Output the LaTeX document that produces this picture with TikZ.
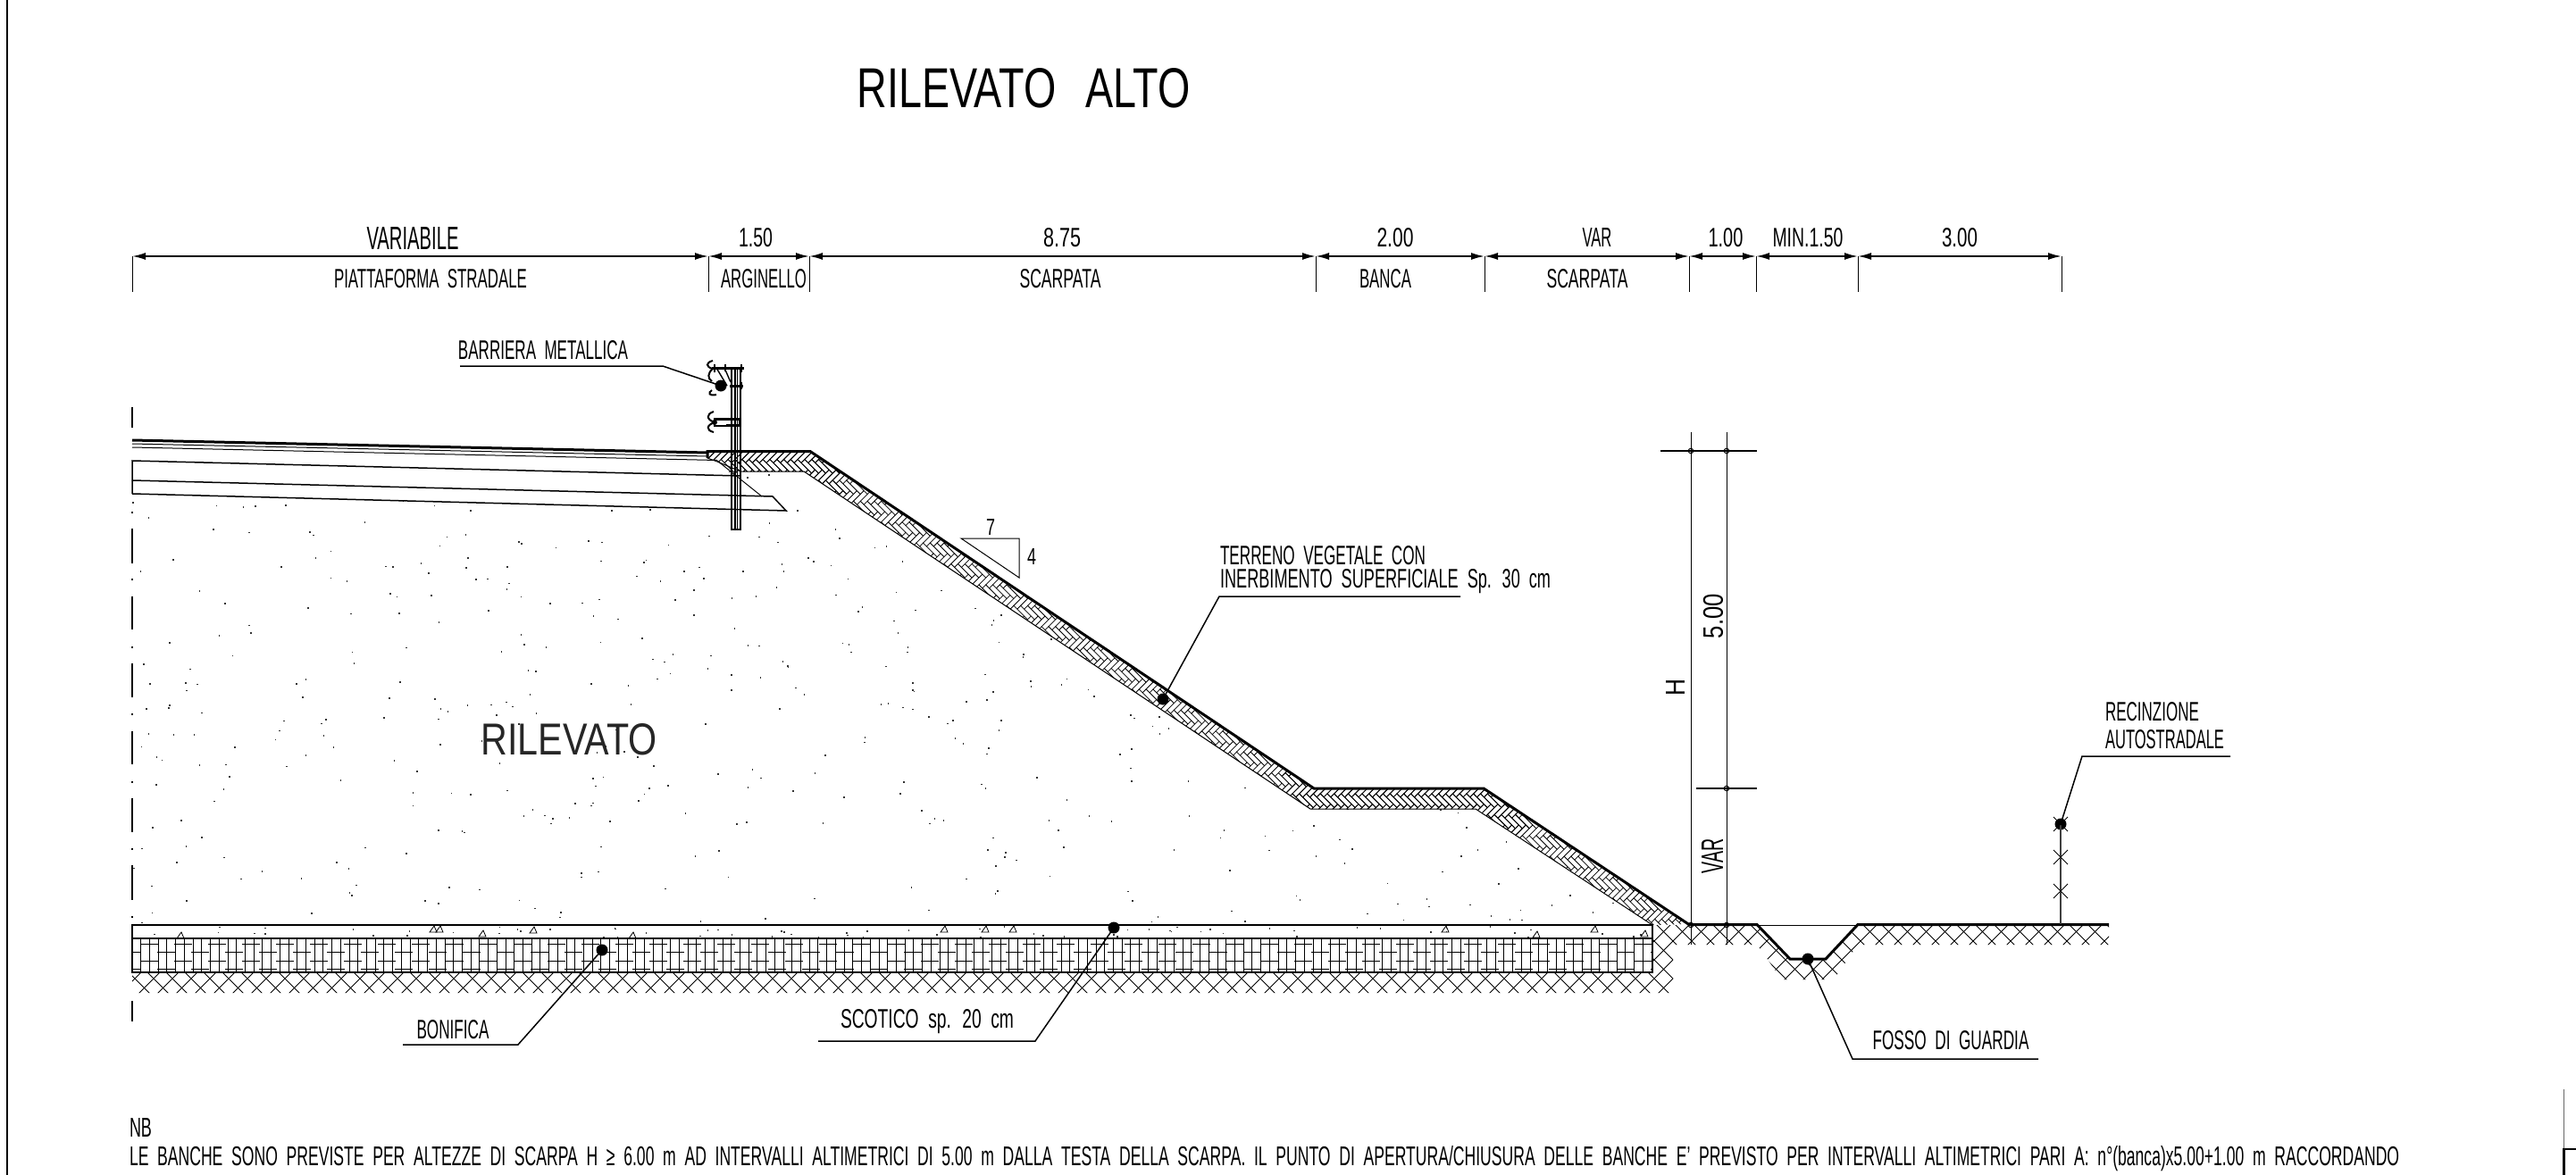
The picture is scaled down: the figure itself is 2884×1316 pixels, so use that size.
\documentclass[tikz,border=0pt]{standalone}
\usepackage{fontspec}
\setmainfont{Liberation Sans}
\usetikzlibrary{arrows.meta}
\newcommand\fit[3]{\resizebox{#1pt}{#2pt}{\spaceskip=.55em\relax #3}}
\tikzset{
  x=1pt,y=-1pt,
  lbl/.style={inner sep=0pt,outer sep=0pt,text=black},
  thinl/.style={line width=1pt,black},
  medl/.style={line width=1.5pt,black},
  heavy/.style={line width=3pt,black,line join=miter},
  hatchl/.style={line width=.8pt,black},
  dimspan/.style={line width=1.8pt,black,{Latex[length=15pt,width=8pt]}-{Latex[length=15pt,width=8pt]}},
  tickl/.style={line width=1pt,black},
  leaderdot/.style={circle,fill=black,inner sep=0pt,minimum size=13pt},
  smallo/.style={circle,draw=black,line width=1pt,inner sep=0pt,minimum size=5.5pt},
}
\newcommand\hbrow[3]{%
  \pgfmathsetmacro\hbY{495+23.4*(#1)}%
  \pgfmathtruncatemacro\hbA{(#2)/7.8}%
  \pgfmathtruncatemacro\hbB{(#3)/7.8}%
  \foreach \hbi in {\hbA,...,\hbB}{%
    \pgfmathsetmacro\hbX{7.8*\hbi}%
    \draw[hatchl] (\hbX,\hbY) -- (\hbX+3.9,\hbY-3.9) -- (\hbX+19.5,\hbY+11.7)
      (\hbX+3.9,\hbY+19.5) -- (\hbX+15.6,\hbY+7.8);
  }}
\begin{document}
\begin{tikzpicture}
\useasboundingbox (0,0) rectangle (2884,1316);
\fill[white] (0,0) rectangle (2884,1316);
% frame
\draw[line width=2.5pt] (8,0) -- (8,1316);
\draw[line width=1.5pt,black!60] (2870.5,1220) -- (2870.5,1286);
\draw[line width=3.5pt] (2870.5,1286) -- (2870.5,1316);
\draw[line width=2.5pt] (2870,1287) -- (2884,1287);
% title
\node[lbl] (title) at (1146,99) {\fit{373}{44}{RILEVATO\hspace{.15em} ALTO}};
% dimension chain
\foreach \n/\x in {d0/148,d1/793,d2/906,d3/1473,d4/1662,d5/1891,d6/1966,d7/2080,d8/2308}{
  \coordinate (\n) at (\x,287);
  \coordinate (\n b) at (\x,327);
  \draw[tickl] (\n) -- (\n b);
}
\foreach \a/\b in {d0/d1,d1/d2,d2/d3,d3/d4,d4/d5,d5/d6,d6/d7,d7/d8}{
  \draw[dimspan] (\a) -- (\b);
}
\node[lbl] (t1) at (462,267) {\fit{103}{25}{VARIABILE}};
\node[lbl] (t2) at (846,266) {\fit{38}{21}{1.50}};
\node[lbl] (t3) at (1189,266) {\fit{42}{21}{8.75}};
\node[lbl] (t4) at (1562,266) {\fit{41}{21}{2.00}};
\node[lbl] (t5) at (1788,266) {\fit{33}{21}{VAR}};
\node[lbl] (t6) at (1932,266) {\fit{39}{21}{1.00}};
\node[lbl] (t7) at (2024,266) {\fit{79}{21}{MIN.1.50}};
\node[lbl] (t8) at (2194,266) {\fit{40}{21}{3.00}};
\node[lbl] (u1) at (482,312) {\fit{216}{21}{PIATTAFORMA STRADALE}};
\node[lbl] (u2) at (855,312) {\fit{96}{21}{ARGINELLO}};
\node[lbl] (u3) at (1187,312) {\fit{91}{21}{SCARPATA}};
\node[lbl] (u4) at (1551,312) {\fit{58}{21}{BANCA}};
\node[lbl] (u5) at (1777,312) {\fit{91}{21}{SCARPATA}};
% axis
\foreach \a/\b in {456/479,592/631,668/705,743/781,819/856,894/932,969/1008,1121/1144}{
  \draw[line width=1.3pt] (148,\a) -- (148,\b);
}
\foreach \a in {573,648,724,799,875,950,1026}{ \fill (147,\a) rectangle ++(2,2); }
% speckle fill of the embankment
\begin{scope}
\clip (148,553) -- (880,572) -- (853,556) -- (829,528) -- (900,528) -- (1467,906) -- (1652,906) -- (1850,1036) -- (148,1036) -- cycle;
\pgfmathsetseed{11}
\foreach \i in {1,...,620}{
  \pgfmathsetmacro\rx{148+rnd*1700}
  \pgfmathsetmacro\ry{530+rnd*505}
  \fill[black!80] (\rx,\ry) rectangle ++(1.6,1.6);
}
\end{scope}
% scotico specks
\begin{scope}
\clip (148,1036) rectangle (1850,1051);
\pgfmathsetseed{5}
\foreach \i in {1,...,70}{
  \pgfmathsetmacro\rx{148+rnd*1700}
  \pgfmathsetmacro\ry{1037+rnd*13}
  \fill[black!80] (\rx,\ry) rectangle ++(1.6,1.6);
}
\end{scope}
\foreach \x/\y in {202/1048,485/1041,492/1041,540/1046,597/1042,708/1048,1057/1041,1103/1041,1134/1041,1618/1041,1720/1047,1785/1041,1841/1046}{
  \draw[line width=.8pt] (\x-4,\y+3) -- (\x+4,\y+3) -- (\x+1,\y-4) -- cycle;
}
% road layers
\draw[heavy] (148,493) -- (792,507);
\draw[thinl] (148,497) -- (792,511);
\draw[thinl] (148,501) -- (803,515.5);
\draw[medl] (148,553) -- (148,516) -- (829,533);
\draw[medl] (148,538) -- (865,556) -- (880,572) -- (148,553);
\draw[thinl] (803,516) -- (853,556);
% herringbone topsoil
\begin{scope}
\clip (792,505) -- (907,505) -- (1471,883) -- (1661,883) -- (1891,1035) -- (1850,1036) -- (1652,906) -- (1467,906) -- (900,528) -- (829,528) -- (820,532) -- (803,517) -- (792,513) -- cycle;
\foreach \k in {-1,...,2}{ \hbrow{\k}{770}{930} }
\foreach \k in {0,...,18}{
  \pgfmathsetmacro\yy{495+23.4*\k}
  \pgfmathsetmacro\xa{907+1.5*(\yy-505)-110}
  \pgfmathsetmacro\xb{907+1.5*(\yy-505)+70}
  \hbrow{\k}{\xa}{\xb}
}
\foreach \k in {15,...,19}{ \hbrow{\k}{1440}{1700} }
\foreach \k in {16,...,24}{
  \pgfmathsetmacro\yy{495+23.4*\k}
  \pgfmathsetmacro\xa{1661+1.5*(\yy-883)-110}
  \pgfmathsetmacro\xb{1661+1.5*(\yy-883)+70}
  \hbrow{\k}{\xa}{\xb}
}
\end{scope}
\draw[thinl] (792,513) -- (803,517) -- (829,528) -- (900,528) -- (1467,906) -- (1652,906) -- (1850,1036);
\draw[heavy] (792,513) -- (792,505.5) -- (907,505.5) -- (1471,883) -- (1661,883) -- (1891,1035.5);
% cross hatch of natural ground
\begin{scope}
\clip (148,1089) -- (1850,1089) -- (1850,1036) -- (1967,1036) -- (2004,1074) -- (2044,1074) -- (2080,1036) -- (2361,1036) -- (2361,1058) -- (2080,1058) -- (2053,1097) -- (1995,1097) -- (1967,1058) -- (1873,1058) -- (1873,1112) -- (148,1112) -- cycle;
\foreach \i in {-5,...,110}{
  \pgfmathsetmacro\xa{148+21*\i}
  \draw[hatchl] (\xa,1030) -- (\xa+90,1120) (\xa+90,1030) -- (\xa,1120);
}
\end{scope}
% bonifica masonry
\foreach \i in {0,...,175}{
  \pgfmathsetmacro\xa{148+9.72*\i}
  \draw[line width=.8pt] (\xa,1051) -- (\xa,1089);
}
\begin{scope}
\clip (148,1051) rectangle (1850,1089);
\foreach \i in {-1,...,45}{
  \pgfmathsetmacro\xa{148+38*\i}
  \draw[line width=1pt]
    (\xa+9,1057) -- ++(20,0)
    (\xa+28,1066) -- ++(20,0)
    (\xa+9,1076) -- ++(20,0)
    (\xa+28,1085) -- ++(20,0);
}
\end{scope}
\draw[medl] (148,1089) -- (148,1036) -- (1850,1036) -- (1850,1089) -- cycle;
\draw[medl] (148,1051) -- (1850,1051);
% ground line
\draw[thinl] (1967,1036) -- (2080,1036);
\draw[heavy] (1891,1035.5) -- (1967,1035.5) -- (2004,1074) -- (2044,1074) -- (2080,1035.5) -- (2361,1035.5);
% barrier post
\draw[line width=1.3pt] (819,412) -- (819,593) -- (829,593) -- (829,412);
\draw[line width=1.2pt] (823,412) -- (823,593) (825.5,412) -- (825.5,593);
% barrier upper rail
\draw[line width=3pt] (797,412) -- (833,412) (817,432) -- (832,432);
\draw[line width=1.4pt] (802,412) -- (814,432) (811,412) -- (818,428);
\draw[line width=2.5pt] (800,408) -- (800,417) (812,408) -- (812,416) (830,408) -- (830,417) (830,428) -- (830,436);
\draw[line width=2pt] (798,404) .. controls (790,406) and (790,411) .. (798,413) .. controls (792,418) and (792,424) .. (797,427);
\draw[line width=2pt] (797,437) .. controls (792,440) and (794,444) .. (802,442);
% barrier lower rail
\draw[line width=2pt] (799,461) .. controls (790,464) and (791,470) .. (800,473) .. controls (791,476) and (790,482) .. (799,484);
\draw[line width=1.3pt] (800,469) rectangle (828,477);
\draw[line width=3pt] (800,469) -- (828,469) (813,476) -- (828,476);
\fill (800,473) circle (3pt);
% slope triangle
\coordinate (s1) at (1076,603);
\coordinate (s2) at (1141,603);
\coordinate (s3) at (1141,647);
\draw[thinl] (s1) -- (s2) -- (s3) -- cycle;
\node[lbl] (seven) at (1109,590) {\fit{10}{18}{7}};
\node[lbl] (four) at (1155,623) {\fit{10}{18}{4}};
% level dims
\coordinate (v1a) at (1893,484); \coordinate (v1b) at (1893,1058);
\coordinate (v2a) at (1933,484); \coordinate (v2b) at (1933,1058);
\draw[tickl] (v1a) -- (v1b);
\draw[tickl] (v2a) -- (v2b);
\coordinate (h1a) at (1859,505); \coordinate (h1b) at (1967,505);
\coordinate (h2a) at (1899,883); \coordinate (h2b) at (1967,883);
\draw[medl] (h1a) -- (h1b);
\draw[medl] (h2a) -- (h2b);
\node[smallo] (o1) at (1893,505) {};
\node[smallo] (o2) at (1933,505) {};
\node[smallo] (o3) at (1933,883) {};
\node[smallo] (o4) at (1893,1036) {};
\node[smallo] (o5) at (1933,1036) {};
\node[lbl,rotate=90] (hh) at (1876,770) {\fit{19}{21}{H}};
\node[lbl,rotate=90] (five) at (1918,690) {\fit{50}{22}{5.00}};
\node[lbl,rotate=90] (var) at (1917,959) {\fit{39}{24}{VAR}};
% fence
\node[leaderdot] (dFen) at (2307,923) {};
\coordinate (fb) at (2307,1035);
\draw[line width=1.6pt,black!75] (dFen.center) -- (fb);
\foreach \y in {923,960,998}{
  \draw[thinl] (2299,\y-8) -- (2315,\y+8) (2299,\y+8) -- (2315,\y-8);
}
% leaders
\node[leaderdot] (dBar) at (807,432) {};
\coordinate (lb1) at (515,410); \coordinate (lb2) at (742,410);
\draw[medl] (lb1) -- (lb2) -- (dBar.center);
\node[lbl] (tBar) at (608,392) {\fit{190}{21}{BARRIERA METALLICA}};
\node[leaderdot] (dTer) at (1302,783) {};
\coordinate (lt1) at (1635,668); \coordinate (lt2) at (1365,668);
\draw[medl] (lt1) -- (lt2) -- (dTer.center);
\node[lbl,anchor=west] (tTer1) at (1366,622) {\fit{230}{21}{TERRENO VEGETALE CON}};
\node[lbl,anchor=west] (tTer2) at (1366,651) {\fit{370}{21}{INERBIMENTO SUPERFICIALE Sp. 30 cm}};
\node[leaderdot] (dBon) at (674,1064) {};
\coordinate (lo1) at (451,1170); \coordinate (lo2) at (580,1170);
\draw[medl] (lo1) -- (lo2) -- (dBon.center);
\node[lbl] (tBon) at (507,1153) {\fit{81}{21}{BONIFICA}};
\node[leaderdot] (dSco) at (1247,1039) {};
\coordinate (ls1) at (916,1166); \coordinate (ls2) at (1159,1166);
\draw[medl] (ls1) -- (ls2) -- (dSco.center);
\node[lbl] (tSco) at (1038,1144) {\fit{194}{21}{SCOTICO sp. 20 cm}};
\node[leaderdot] (dFos) at (2024,1074) {};
\coordinate (lf1) at (2282,1186); \coordinate (lf2) at (2074,1186);
\draw[medl] (lf1) -- (lf2) -- (dFos.center);
\node[lbl] (tFos) at (2184,1165) {\fit{175}{21}{FOSSO DI GUARDIA}};
\coordinate (lr1) at (2497,847); \coordinate (lr2) at (2331,847);
\draw[medl] (lr1) -- (lr2) -- (dFen.center);
\node[lbl,anchor=west] (tRec1) at (2357,797) {\fit{105}{21}{RECINZIONE}};
\node[lbl,anchor=west] (tRec2) at (2357,828) {\fit{133}{21}{AUTOSTRADALE}};
% rilevato
\node[lbl,text=black!85] (tRil) at (637,828) {\fit{197}{35}{RILEVATO}};
% note
\node[lbl,anchor=west] (nb) at (145,1263) {\fit{25}{21}{NB}};
\node[lbl,anchor=west] (note) at (145,1298) {\fit{2541}{22}{LE BANCHE SONO PREVISTE PER ALTEZZE DI SCARPA H ≥ 6.00 m AD INTERVALLI ALTIMETRICI DI 5.00 m DALLA TESTA DELLA SCARPA. IL PUNTO DI APERTURA/CHIUSURA DELLE BANCHE E' PREVISTO PER INTERVALLI ALTIMETRICI PARI A: n°(banca)x5.00+1.00 m RACCORDANDO}};
\end{tikzpicture}
\end{document}
